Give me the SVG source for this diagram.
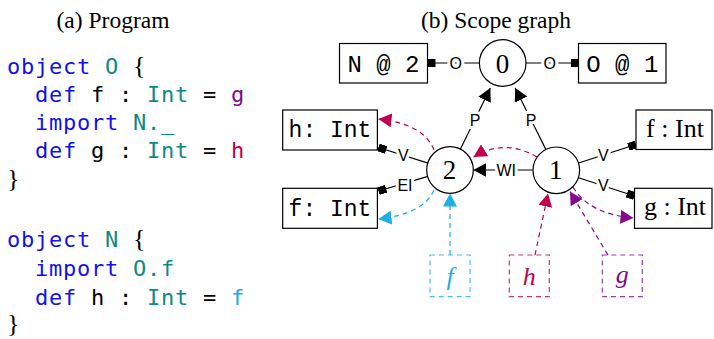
<svg xmlns="http://www.w3.org/2000/svg" width="714" height="339" viewBox="0 0 714 339">
<defs>
<marker id="ab" markerUnits="userSpaceOnUse" markerWidth="13" markerHeight="14" viewBox="0 0 13 14" refX="13" refY="7" orient="auto"><path d="M0,0 L13,7 L0,14 z" fill="#000"/></marker>
<marker id="ac" markerUnits="userSpaceOnUse" markerWidth="13" markerHeight="14" viewBox="0 0 13 14" refX="13" refY="7" orient="auto"><path d="M0,0 L13,7 L0,14 z" fill="#C2004B"/></marker>
<marker id="ay" markerUnits="userSpaceOnUse" markerWidth="13" markerHeight="14" viewBox="0 0 13 14" refX="13" refY="7" orient="auto"><path d="M0,0 L13,7 L0,14 z" fill="#1BAEE8"/></marker>
<marker id="ap" markerUnits="userSpaceOnUse" markerWidth="13" markerHeight="14" viewBox="0 0 13 14" refX="13" refY="7" orient="auto"><path d="M0,0 L13,7 L0,14 z" fill="#850A8C"/></marker>
<marker id="sq" markerUnits="userSpaceOnUse" markerWidth="8" markerHeight="8" viewBox="0 0 8 8" refX="8" refY="4" orient="auto"><rect width="8" height="8" fill="#000"/></marker>
</defs>
<style>
.code{font-family:"DejaVu Sans Mono",monospace;font-size:22px;letter-spacing:0.76px;fill:#000}
.kw{fill:#1212EE}
.ty{fill:#0E8A86}
.cr{fill:#C2004B}
.cy{fill:#1BAEE8}
.pu{fill:#850A8C}
.br{font-family:"Liberation Serif",serif;font-size:26px;fill:#000}
.cap{font-family:"Liberation Serif",serif;font-size:23.5px;text-anchor:middle;fill:#000}
.node circle{fill:#fff;stroke:#000;stroke-width:1.2}
.num{font-family:"Liberation Serif",serif;font-size:27px;text-anchor:middle;fill:#000}
.box rect{fill:#fff;stroke:#000;stroke-width:1.2}
.tt{font-family:"Liberation Mono",monospace;font-size:23px;text-anchor:middle;fill:#000}
.rm{font-family:"Liberation Serif",serif;font-size:26px;text-anchor:middle;fill:#000}
.it{font-family:"Liberation Serif",serif;font-style:italic;font-size:26px;text-anchor:middle}
.e{fill:none;stroke:#000;stroke-width:1.2}
.lbl{font-family:"Liberation Sans",sans-serif;font-size:16px;text-anchor:middle;stroke:#fff;stroke-width:6;paint-order:stroke;fill:#000}
.d{fill:none;stroke-width:1.2;stroke-dasharray:5 4}
.q rect{fill:none;stroke-width:1.2;stroke-dasharray:5 4;stroke-opacity:0.8}
</style>

<g id="program">
<text class="cap" x="113" y="28">(a) Program</text>
<text class="code" x="7" y="74" xml:space="preserve"><tspan class="kw">object</tspan><tspan class="ty"> O</tspan></text>
<text class="br" x="133" y="74">{</text>
<text class="code" x="35" y="102" xml:space="preserve"><tspan class="kw">def</tspan> f : <tspan class="ty">Int</tspan> = <tspan class="pu">g</tspan></text>
<text class="code" x="35" y="130" xml:space="preserve"><tspan class="kw">import</tspan><tspan class="ty"> N._</tspan></text>
<text class="code" x="35" y="158" xml:space="preserve"><tspan class="kw">def</tspan> g : <tspan class="ty">Int</tspan> = <tspan class="cr">h</tspan></text>
<text class="br" x="7" y="187">}</text>
<text class="code" x="7" y="247" xml:space="preserve"><tspan class="kw">object</tspan><tspan class="ty"> N</tspan></text>
<text class="br" x="133" y="247">{</text>
<text class="code" x="35" y="276" xml:space="preserve"><tspan class="kw">import</tspan><tspan class="ty"> O.f</tspan></text>
<text class="code" x="35" y="305" xml:space="preserve"><tspan class="kw">def</tspan> h : <tspan class="ty">Int</tspan> = <tspan class="cy">f</tspan></text>
<text class="br" x="7" y="332">}</text>
</g>

<text class="cap" x="496" y="28">(b) Scope graph</text>

<g id="connectors">
<line class="e" x1="479.7" y1="63" x2="427.5" y2="63" marker-end="url(#sq)"/>
<text class="lbl" x="455.8" y="68.8">O</text>
<line class="e" x1="525.7" y1="63" x2="578.5" y2="63" marker-end="url(#sq)"/>
<text class="lbl" x="549.7" y="68.8">O</text>
<line class="e" x1="460.2" y1="149.4" x2="490.3" y2="88.1" marker-end="url(#ab)"/>
<text class="lbl" x="475" y="125.5">P</text>
<line class="e" x1="546" y1="149.7" x2="515.2" y2="88" marker-end="url(#ab)"/>
<text class="lbl" x="531" y="125.5">P</text>
<line class="e" x1="532.8" y1="170" x2="473.3" y2="170" marker-end="url(#ab)"/>
<text class="lbl" x="506.3" y="176">WI</text>
<line class="e" x1="428.1" y1="163.1" x2="378.5" y2="147.5" marker-end="url(#sq)"/>
<text class="lbl" x="403.3" y="161">V</text>
<line class="e" x1="427.9" y1="176.4" x2="378.5" y2="191" marker-end="url(#sq)"/>
<text class="lbl" x="405" y="191">EI</text>
<line class="e" x1="578.6" y1="163" x2="636" y2="144.5" marker-end="url(#sq)"/>
<text class="lbl" x="603.3" y="160.5">V</text>
<line class="e" x1="578.6" y1="177.7" x2="634.5" y2="196" marker-end="url(#sq)"/>
<text class="lbl" x="603.3" y="191">V</text>

<path class="d" stroke="#C2004B" d="M434,150 Q424,124 378.5,119" marker-end="url(#ac)"/>
<path class="d" stroke="#C2004B" d="M537,157 Q505,138 473.5,157" marker-end="url(#ac)"/>
<path class="d" stroke="#1BAEE8" d="M434,190 Q424,214 378.5,219" marker-end="url(#ay)"/>
<path class="d" stroke="#1BAEE8" d="M450,255 L450,193.5" marker-end="url(#ay)"/>
<path class="d" stroke="#C2004B" d="M535,255 L548,193.5" marker-end="url(#ac)"/>
<path class="d" stroke="#850A8C" d="M608,255 L570,191.5" marker-end="url(#ap)"/>
<path class="d" stroke="#850A8C" d="M573,187 Q589,214 633.5,218" marker-end="url(#ap)"/>
</g>

<g id="n0" class="node"><circle cx="502.7" cy="63" r="23.3"/><text class="num" x="502.5" y="73">0</text></g>
<g id="n2" class="node"><circle cx="450" cy="170" r="23.3"/><text class="num" x="449.5" y="179">2</text></g>
<g id="n1" class="node"><circle cx="556.3" cy="170.3" r="23.3"/><text class="num" x="555.8" y="179">1</text></g>

<g id="box-N2" class="box"><rect x="339.5" y="43.5" width="88" height="39.5"/><text class="tt" x="383.5" y="71.5" style="font-size:24px">N @ 2</text></g>
<g id="box-O1" class="box"><rect x="578.5" y="43.5" width="87.5" height="39.5"/><text class="tt" x="622.3" y="71.5" style="font-size:24px">O @ 1</text></g>
<g id="box-h" class="box"><rect x="282.7" y="110" width="94.7" height="40"/><text class="tt" x="330" y="137">h: Int</text></g>
<g id="box-f" class="box"><rect x="282.7" y="188.3" width="94.7" height="40"/><text class="tt" x="330" y="215.5">f: Int</text></g>
<g id="box-fr" class="box"><rect x="636" y="110" width="76" height="39.5"/><text class="rm" x="675" y="137">f : Int</text></g>
<g id="box-gr" class="box"><rect x="634.5" y="188.3" width="77.5" height="40"/><text class="rm" x="675" y="215">g : Int</text></g>

<g id="q-f" class="q"><rect x="430" y="255" width="40" height="41.7" stroke="#1BAEE8"/><text class="it cy" x="450" y="285">f</text></g>
<g id="q-h" class="q"><rect x="509.3" y="255" width="40" height="41.7" stroke="#C2004B"/><text class="it cr" x="529.3" y="285">h</text></g>
<g id="q-g" class="q"><rect x="602.3" y="255" width="40" height="41.7" stroke="#850A8C"/><text class="it pu" x="622.3" y="283">g</text></g>
</svg>
